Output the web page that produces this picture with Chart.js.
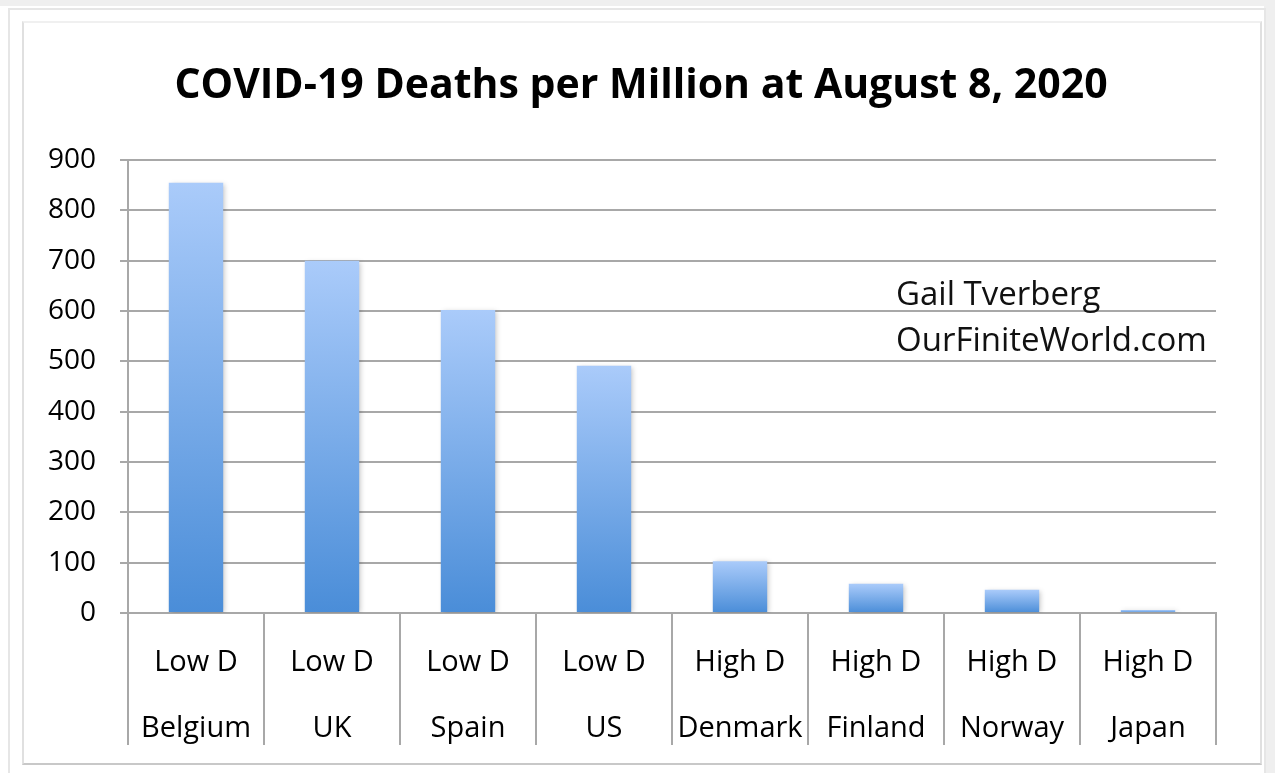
<!DOCTYPE html>
<html>
<head>
<meta charset="utf-8">
<script src="https://cdn.jsdelivr.net/npm/chart.js@4"></script>
<style>
  html, body { margin: 0; padding: 0; background: #fff; }
  #wrap { position: relative; width: 1275px; height: 773px; overflow: hidden; }
  #topband { position: absolute; left: 0; top: 0; width: 1275px; height: 6px; background: #efefef; }
  #outer { position: absolute; left: 8px; top: 8px; width: 1254px; height: 780px; border: 2px solid #e6e6e6; border-bottom: none; }
  #rightband { position: absolute; left: 1264px; top: 0; width: 11px; height: 773px; background: #efefef; }
  #inner { position: absolute; left: 22px; top: 21px; width: 1236px; height: 740px; border: 2px solid #e0e0e0; border-top-color: #f0f0f0; border-bottom-color: #c8c8c8; }
  canvas { position: absolute; left: 0; top: 0; }
</style>
</head>
<body>
<div id="wrap">
  <div id="topband"></div>
  <div id="rightband"></div>
  <div id="outer"></div>
  <div id="inner"></div>
  <canvas id="deathsChart" width="1275" height="773"></canvas>
</div>
<script>
  const groups = ["Low D", "Low D", "Low D", "Low D", "High D", "High D", "High D", "High D"];
  const countries = ["Belgium", "UK", "Spain", "US", "Denmark", "Finland", "Norway", "Japan"];
  const deathsPerMillion = [855, 700, 602, 491, 103, 58, 46, 6];
  const yTicks = [0, 100, 200, 300, 400, 500, 600, 700, 800, 900];

  const chartTitle = "COVID-19 Deaths per Million at August 8, 2020";
  const labels = countries.map((c, i) => [groups[i], c]);
  const gridGray = "#a8a8a8";

  // gradient per bar, light on top, darker at the base
  function barGradient(ctx) {
    const chart = ctx.chart;
    const y = chart.scales && chart.scales.y;
    if (!y || ctx.raw == null) return "#7aaef0";
    const top = y.getPixelForValue(ctx.raw);
    const base = y.getPixelForValue(0);
    if (!isFinite(top) || !isFinite(base) || top === base) return "#7aaef0";
    const g = chart.ctx.createLinearGradient(0, top, 0, base);
    g.addColorStop(0, "#aacbfa");
    g.addColorStop(1, "#4a8dd8");
    return g;
  }

  const barShadow = {
    id: "barShadow",
    beforeDatasetsDraw(chart) {
      const c = chart.ctx;
      c.save();
      c.shadowColor = "rgba(0,0,0,0.22)";
      c.shadowBlur = 5;
      c.shadowOffsetX = 2;
      c.shadowOffsetY = 1;
    },
    afterDatasetsDraw(chart) {
      chart.ctx.restore();
    }
  };

  // title centred on the whole picture, plus the author note
  const texts = {
    id: "texts",
    afterDraw(chart) {
      const c = chart.ctx;
      c.save();
      c.fillStyle = "#000";
      c.font = "bold 41px 'Open Sans'";
      c.textAlign = "center";
      c.textBaseline = "middle";
      c.fillText(chartTitle, 641, 86);
      c.fillStyle = "#111";
      c.font = "33px 'Open Sans'";
      c.textAlign = "left";
      c.textBaseline = "alphabetic";
      c.fillText("Gail Tverberg", 896, 305);
      c.fillText("OurFiniteWorld.com", 896, 351);
      c.restore();
    }
  };

  new Chart(document.getElementById("deathsChart").getContext("2d"), {
    type: "bar",
    data: {
      labels: labels,
      datasets: [{
        label: "Deaths per Million",
        data: deathsPerMillion,
        backgroundColor: barGradient,
        borderWidth: 0,
        categoryPercentage: 0.8,
        barPercentage: 0.5
      }]
    },
    options: {
      responsive: false,
      animation: false,
      layout: { padding: { top: 160, right: 59, bottom: 28, left: 0 } },
      plugins: {
        legend: { display: false },
        tooltip: { enabled: false },
        title: { display: false }
      },
      scales: {
        x: {
          offset: true,
          grid: {
            display: true,
            offset: true,
            drawOnChartArea: false,
            drawTicks: true,
            tickLength: 132,
            color: gridGray,
            lineWidth: 2
          },
          border: { display: true, color: gridGray, width: 2 },
          ticks: {
            color: "#000",
            font: { family: "Open Sans", size: 29, lineHeight: 2.3 },
            padding: -116,
            maxRotation: 0,
            autoSkip: false
          },
          afterFit(scale) { scale.height = 132; }
        },
        y: {
          min: 0,
          max: 900,
          afterBuildTicks(scale) { scale.ticks = yTicks.map(v => ({ value: v })); },
          grid: { color: gridGray, lineWidth: 2, tickLength: 8 },
          border: { display: true, color: gridGray, width: 2 },
          ticks: {
            color: "#000",
            font: { family: "Open Sans", size: 28 },
            padding: 24
          },
          afterFit(scale) { scale.width = 128; }
        }
      }
    },
    plugins: [barShadow, texts]
  });
</script>
</body>
</html>
